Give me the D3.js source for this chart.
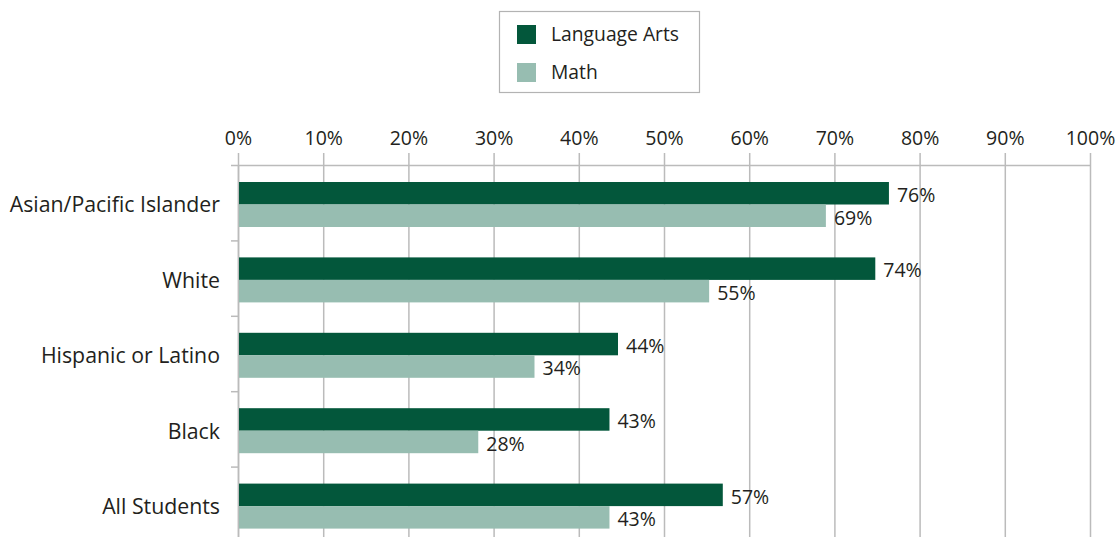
<!DOCTYPE html>
<html>
<head>
<meta charset="utf-8">
<script src="https://cdn.jsdelivr.net/npm/d3@7"></script>
<style>
  body { margin: 0; background: #fff; }
  svg { display: block; font-family: "Open Sans", sans-serif; }
</style>
</head>
<body>
<svg id="chart" width="1119" height="537"></svg>
<script>
// data
const categories = ['Asian/Pacific Islander', 'White', 'Hispanic or Latino', 'Black', 'All Students'];
const series = ['Language Arts', 'Math'];
const languageArts = [76.4, 74.8, 44.6, 43.6, 56.9];
const math = [69.0, 55.3, 34.8, 28.2, 43.6];
const languageArtsLabels = ['76%', '74%', '44%', '43%', '57%'];
const mathLabels = ['69%', '55%', '34%', '28%', '43%'];
const tickValues = [0, 10, 20, 30, 40, 50, 60, 70, 80, 90, 100];
const tickLabels = ['0%', '10%', '20%', '30%', '40%', '50%', '60%', '70%', '80%', '90%', '100%'];

const colors = { 'Language Arts': '#03573b', 'Math': '#97bdb1' };
const textColor = '#231f20';
const gridColor = '#bbbbbb';

const svg = d3.select('#chart');

const x = d3.scaleLinear().domain([0, 100]).range([238, 1090]);
const y = d3.scaleBand().domain(categories).range([165, 542]);
const yInner = d3.scaleBand().domain(series).range([17, 62]);

// grid lines (stick up above the top rule like ticks)
svg.append('g')
  .selectAll('line')
  .data(tickValues)
  .join('line')
    .attr('x1', d => x(d) + 0.5)
    .attr('x2', d => x(d) + 0.5)
    .attr('y1', 153)
    .attr('y2', 542)
    .attr('stroke', gridColor)
    .attr('stroke-width', 1.5);

// top axis labels
const xAxis = svg.append('g')
  .attr('transform', 'translate(0,165)')
  .call(d3.axisTop(x)
    .tickValues(tickValues)
    .tickFormat((d, i) => tickLabels[i])
    .tickSize(0)
    .tickPadding(20));
xAxis.select('.domain').remove();
xAxis.selectAll('text')
  .attr('font-family', '"Open Sans", sans-serif')
  .attr('font-size', 19.5)
  .attr('fill', textColor);

// top rule and left axis
svg.append('line')
  .attr('x1', 231).attr('x2', x(100) + 0.5)
  .attr('y1', 165.5).attr('y2', 165.5)
  .attr('stroke', gridColor).attr('stroke-width', 1.5);
svg.append('line')
  .attr('x1', x(0) + 0.5).attr('x2', x(0) + 0.5)
  .attr('y1', 165).attr('y2', 542)
  .attr('stroke', gridColor).attr('stroke-width', 1.5);
svg.append('g')
  .selectAll('line')
  .data(categories.slice(1).map(c => y(c)).concat([542]))
  .join('line')
    .attr('x1', 231).attr('x2', x(0))
    .attr('y1', d => d + 0.5).attr('y2', d => d + 0.5)
    .attr('stroke', gridColor).attr('stroke-width', 1.5);

// bars
const rows = categories.map((c, i) => ({
  cat: c,
  vals: [
    { s: 'Language Arts', v: languageArts[i], label: languageArtsLabels[i] },
    { s: 'Math', v: math[i], label: mathLabels[i] }
  ]
}));

const groups = svg.append('g')
  .selectAll('g')
  .data(rows)
  .join('g')
    .attr('transform', d => `translate(0,${y(d.cat)})`);

groups.selectAll('rect')
  .data(d => d.vals)
  .join('rect')
    .attr('x', x(0) + 1)
    .attr('y', d => yInner(d.s))
    .attr('width', d => x(d.v) - x(0) - 1)
    .attr('height', yInner.bandwidth())
    .attr('fill', d => colors[d.s]);

groups.selectAll('text.val')
  .data(d => d.vals)
  .join('text')
    .attr('class', 'val')
    .attr('x', d => x(d.v) + 8)
    .attr('y', d => yInner(d.s) + yInner.bandwidth() / 2 + 2)
    .attr('dy', '0.35em')
    .attr('font-size', 19.5)
    .attr('fill', textColor)
    .text(d => d.label);

// category labels
svg.append('g')
  .selectAll('text')
  .data(categories)
  .join('text')
    .attr('x', 220)
    .attr('y', d => y(d) + 40)
    .attr('dy', '0.35em')
    .attr('text-anchor', 'end')
    .attr('font-size', 21.3)
    .attr('fill', textColor)
    .text(d => d);

// legend
const legend = svg.append('g');
legend.append('rect')
  .attr('x', 499.5).attr('y', 11.5)
  .attr('width', 200).attr('height', 81)
  .attr('fill', '#fff')
  .attr('stroke', '#b3b3b3').attr('stroke-width', 1.2);
const items = legend.selectAll('g')
  .data(series)
  .join('g')
    .attr('transform', (d, i) => `translate(517,${25 + i * 38})`);
items.append('rect')
  .attr('width', 19).attr('height', 19)
  .attr('fill', d => colors[d]);
items.append('text')
  .attr('x', 34).attr('y', 9)
  .attr('dy', '0.35em')
  .attr('font-size', 19.3)
  .attr('fill', textColor)
  .text(d => d);
</script>
</body>
</html>
